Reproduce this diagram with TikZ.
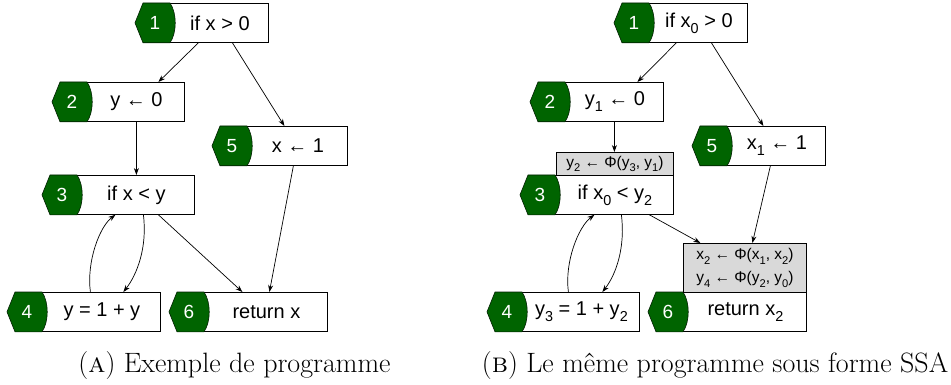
\documentclass[tikz,border=0pt]{standalone}
\usepackage{fontspec}
\usepackage{graphicx}
\newfontfamily\dsans{Liberation Sans}
\usetikzlibrary{arrows.meta,calc}
\definecolor{tagc}{RGB}{0,100,0}
\definecolor{phic}{RGB}{217,217,217}
\newcommand\sbs[1]{\raisebox{-0.3em}{\scalebox{0.72}{#1}}}
\newcommand\blk[6]{%
  \node[box, minimum width={#4pt-#2pt}, anchor=north west] (#1) at (#2,#3) {};
  \path[tagshape] ([xshift=-8pt]#1.west) -- (#1.north west) -- ([xshift=27pt]#1.north west)
     .. controls ([xshift=34pt,yshift=-10pt]#1.north west) and ([xshift=34pt,yshift=10pt]#1.south west) ..
     ([xshift=27pt]#1.south west) -- (#1.south west) -- cycle;
  \node[num] (#1n) at ([xshift=12pt]#1.west) {#5};
  \node[txt] (#1t) at ([xshift=14pt]#1.center) {#6};
}
\tikzset{
  box/.style={draw=black, fill=white, line width=0.8pt, minimum height=39pt, inner sep=0pt},
  tagshape/.style={fill=tagc, draw=black!70!tagc, line width=0.6pt},
  num/.style={text=white, font=\dsans\fontsize{19}{22}\selectfont, inner sep=0pt},
  txt/.style={text=black, font=\dsans\fontsize{20}{24}\selectfont, inner sep=0pt},
  phi/.style={draw=black, fill=phic, line width=0.8pt, inner sep=0pt, align=center,
    font=\dsans\fontsize{15.5}{23}\selectfont},
  arr/.style={-{Stealth[length=7pt,width=5pt]}, line width=0.7pt},
  captext/.style={font=\fontsize{28}{32}\selectfont, inner sep=0pt}
}
\begin{document}
\begin{tikzpicture}[x=1pt,y=-1pt]
\useasboundingbox (0,0) rectangle (951,385);
% ---- (A)
\blk{a1}{143}{3}{268}{1}{if x > 0}
\blk{a2}{60}{82}{184}{2}{y ← 0}
\blk{a5}{220}{126}{347}{5}{x ← 1}
\blk{a3}{50}{175}{194}{3}{if x < y}
\blk{a4}{15}{292}{160}{4}{y = 1 + y}
\blk{a6}{177}{292}{327}{6}{return x}
\draw[arr] ([xshift=-7.5pt]a1.south) -- ([xshift=36pt]a2.north);
\draw[arr] ([xshift=26.5pt]a1.south) -- ([xshift=0.5pt]a5.north);
\draw[arr] ([xshift=14pt]a2.south) -- ([xshift=14pt]a3.north);
\draw[arr] ([xshift=9.5pt]a5.south) -- ([xshift=17pt]a6.north);
\draw[arr] ([xshift=36pt]a3.south) -- ([xshift=-10pt]a6.north);
\draw[arr] ([xshift=21pt]a3.south) .. controls +(4,32) and +(14,-18) .. ([xshift=35.5pt]a4.north);
\draw[arr] ([xshift=2.5pt]a4.north) .. controls +(-4,-30) and +(-16,12) .. ([xshift=-7pt]a3.south);
% ---- (B)
\blk{b1}{622}{3}{747}{1}{if x\sbs0 > 0}
\blk{b2}{538}{82}{663}{2}{y\sbs1 ← 0}
\blk{b5}{700}{126}{825}{5}{x\sbs1 ← 1}
\blk{b3}{528}{175}{673}{3}{if x\sbs0 < y\sbs2}
\blk{b4}{495}{292}{639}{4}{y\sbs3 = 1 + y\sbs2}
\blk{b6}{656}{292}{806}{6}{return x\sbs2}
\node[phi, minimum width=117pt, minimum height=23pt, anchor=north west] (b3p) at (556,152)
  {y\sbs2 ← Φ(y\sbs3, y\sbs1)};
\node[phi, minimum width=123pt, minimum height=49pt, anchor=north west] (b6p) at (683,243)
  {x\sbs2 ← Φ(x\sbs1, x\sbs2)\\y\sbs4 ← Φ(y\sbs2, y\sbs0)};
\draw[arr] ([xshift=-8.5pt]b1.south) -- ([xshift=36.5pt]b2.north);
\draw[arr] ([xshift=26.5pt]b1.south) -- ([xshift=0.5pt]b5.north);
\draw[arr] ([xshift=13.5pt]b2.south) -- ([xshift=-0.5pt]b3p.north);
\draw[arr] ([xshift=7.5pt]b5.south) -- ([xshift=7.5pt]b6p.north);
\draw[arr] ([xshift=48.5pt]b3.south) -- ([xshift=-44.5pt]b6p.north);
\draw[arr] ([xshift=20.5pt]b3.south) .. controls +(4,32) and +(14,-18) .. ([xshift=35pt]b4.north);
\draw[arr] ([xshift=1pt]b4.north) .. controls +(-4,-30) and +(-16,12) .. ([xshift=-6.5pt]b3.south);
% ---- captions
\node[captext, anchor=base] (capa) at (234.5,372) {(\textsc{a}) Exemple de programme};
\node[captext, anchor=base] (capb) at (715,372) {(\textsc{b}) Le même programme sous forme SSA};
\end{tikzpicture}
\end{document}
